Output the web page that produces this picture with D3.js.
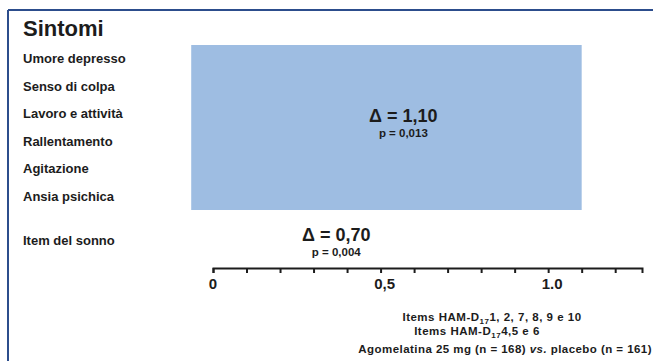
<!DOCTYPE html>
<html><head><meta charset="utf-8">
<script src="https://cdn.jsdelivr.net/npm/d3@7/dist/d3.min.js"></script>
<style>
body{margin:0;background:#fff;}
svg{display:block;font-family:"Liberation Sans",Arial,sans-serif;}
</style></head>
<body>
<script>
// ---- data ----
const title = "Sintomi";
const symptoms = ["Umore depresso","Senso di colpa","Lavoro e attività","Rallentamento","Agitazione","Ansia psichica"];
const sleepItem = "Item del sonno";
const deltaValues = [1.10, 0.70];          // symptoms group, sleep item
const deltaLabels = ["Δ = 1,10", "Δ = 0,70"];
const pLabels = ["p = 0,013", "p = 0,004"];
const barStart = -0.065;                    // bar drawn from slightly left of 0
const axisMax = 1.28;
const minorTicks = d3.range(0, 13).map(i => i / 10);
const tickLabelValues = [0, 0.5, 1.0];
const tickLabels = ["0", "0,5", "1.0"];
const footLines = [
  ["Items HAM-D", "17", "1, 2, 7, 8, 9 e 10"],
  ["Items HAM-D", "17", "4,5 e 6"]
];
const footLast = ["Agomelatina 25 mg (n = 168) ", "vs.", " placebo (n = 161)"];

// ---- layout ----
const W = 653, H = 361;
const svg = d3.select("body").append("svg").attr("width", W).attr("height", H);
const ink = "#1c1c1c";

// frame
svg.append("line").attr("x1",8).attr("y1",10).attr("x2",W).attr("y2",10).attr("stroke","#2c4d8c").attr("stroke-width",2);
svg.append("line").attr("x1",8).attr("y1",10).attr("x2",8).attr("y2",H).attr("stroke","#2c4d8c").attr("stroke-width",2);

const x = d3.scaleLinear().domain([0, axisMax]).range([213, 642]);
const yBand = d3.scaleBand().domain(symptoms).range([45, 210]).padding(0);
const bw = yBand.bandwidth();
const sleepCenter = 210 + 17 + bw / 2;

// title
svg.append("text").attr("x", 23).attr("y", 36).attr("font-size", 22).attr("font-weight", "bold")
  .attr("fill", ink).text(title);

// row labels
svg.selectAll("text.row").data(symptoms).join("text").attr("class","row")
  .attr("x", 23).attr("y", d => yBand(d) + bw / 2 + 4.5)
  .attr("font-size", 13).attr("font-weight", "bold").attr("fill", ink).text(d => d);
svg.append("text").attr("x", 23).attr("y", sleepCenter + 4.5)
  .attr("font-size", 13).attr("font-weight", "bold").attr("fill", ink).text(sleepItem);

// bar
svg.append("rect")
  .attr("x", x(barStart)).attr("y", yBand(symptoms[0]))
  .attr("width", x(deltaValues[0]) - x(barStart))
  .attr("height", yBand(symptoms[symptoms.length-1]) + bw - yBand(symptoms[0]))
  .attr("fill", "#9ebde2");

// delta labels
const barCenter = (yBand(symptoms[0]) + yBand(symptoms[symptoms.length-1]) + bw) / 2;
const deltaY = [barCenter - 5.5, sleepCenter];
const pY = [barCenter + 9.5, sleepCenter + 15];
deltaValues.forEach((v, i) => {
  const cx = x(v / 2) + 6;
  svg.append("text").attr("x", cx).attr("y", deltaY[i]).attr("text-anchor","middle")
    .attr("font-size", 18).attr("font-weight","bold").attr("fill", ink).text(deltaLabels[i]);
  svg.append("text").attr("x", cx).attr("y", pY[i]).attr("text-anchor","middle")
    .attr("font-size", 11.5).attr("font-weight","bold").attr("fill", ink).text(pLabels[i]);
});

// axis
const axisY = 268;
const ag = svg.append("g").attr("transform", `translate(0,${axisY})`)
  .call(d3.axisBottom(x).tickValues(minorTicks).tickSize(5).tickSizeOuter(5).tickFormat(""));
ag.select(".domain").attr("stroke", ink).attr("stroke-width", 2);
ag.selectAll(".tick line").attr("stroke", ink).attr("stroke-width", 2);
svg.selectAll("text.tl").data(tickLabelValues).join("text").attr("class","tl")
  .attr("x", (d, i) => x(d) + (i === 0 ? 0 : 4)).attr("y", axisY + 21)
  .attr("text-anchor","middle").attr("font-size", 15).attr("font-weight","bold").attr("fill", ink)
  .text((d, i) => tickLabels[i]);

// footnotes
const footCenters = [492, 477];
const footBase = [321, 335];
footLines.forEach((parts, i) => {
  const t = svg.append("text").attr("x", footCenters[i]).attr("y", footBase[i]).attr("text-anchor","middle")
    .attr("font-size", 11.5).attr("letter-spacing", 0.5).attr("font-weight","bold").attr("fill", ink);
  t.append("tspan").text(parts[0]);
  t.append("tspan").attr("font-size", 8).attr("dy", 3).text(parts[1]);
  t.append("tspan").attr("dy", -3).text(parts[2]);
});
const tl = svg.append("text").attr("x", 652).attr("y", 353).attr("text-anchor","end")
  .attr("font-size", 11.5).attr("letter-spacing", 0.45).attr("font-weight","bold").attr("fill", ink);
tl.append("tspan").text(footLast[0]);
tl.append("tspan").attr("font-style","italic").text(footLast[1]);
tl.append("tspan").text(footLast[2]);
</script>
</body></html>
